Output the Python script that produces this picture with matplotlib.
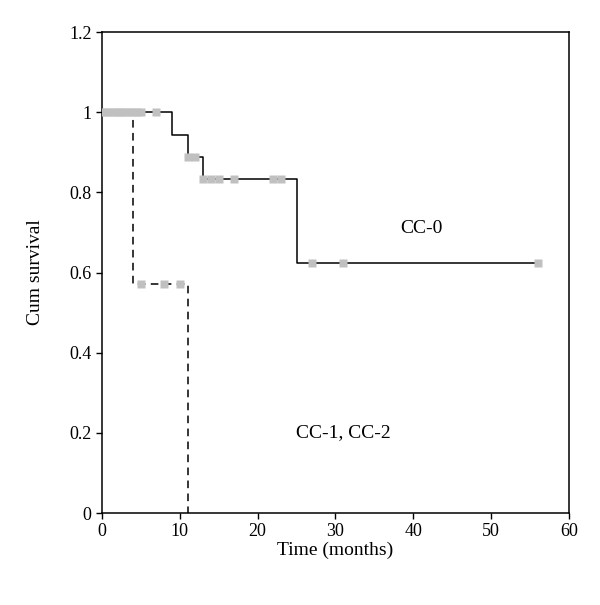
import matplotlib
matplotlib.use("Agg")
import matplotlib.pyplot as plt

plt.rcParams['font.family'] = ['Liberation Serif', 'DejaVu Serif']

# CC-0 survival curve (step points)
cc0_time = [0, 9, 11, 13, 25, 56]
cc0_surv = [1.0, 0.944, 0.889, 0.833, 0.625, 0.625]
# CC-0 censored observations
cc0_cens_time = [0, 0.5, 1, 1.5, 2, 2.5, 3, 3.5, 4, 4.5, 5, 7, 11, 12, 13, 14, 15, 17, 22, 23, 27, 31, 56]
cc0_cens_surv = [1.0] * 12 + [0.889, 0.889] + [0.833] * 6 + [0.625] * 3

# CC-1, CC-2 survival curve
cc12_time = [0, 4, 11, 11]
cc12_surv = [1.0, 0.571, 0.0, 0.0]
cc12_cens_time = [5, 8, 10]
cc12_cens_surv = [0.571, 0.571, 0.571]

fig = plt.figure(figsize=(6, 6.05), dpi=100)
ax = fig.add_axes([0.17, 0.152, 0.778, 0.795])

ax.step(cc0_time, cc0_surv, where='post', color='black', lw=1.1)
ax.step(cc12_time, cc12_surv, where='post', color='black', lw=1.1,
        linestyle=(0, (5, 3.5)))

ax.plot(cc0_cens_time, cc0_cens_surv, 's', color='#c0c0c0', ms=5.5, mec='none', zorder=3)
ax.plot(cc12_cens_time, cc12_cens_surv, 's', color='#c0c0c0', ms=5.5, mec='none', zorder=3)

ax.text(41, 0.71, 'CC-0', fontsize=14, ha='center', va='center')
ax.text(31, 0.2, 'CC-1, CC-2', fontsize=14, ha='center', va='center')

ax.set_xlim(0, 60)
ax.set_ylim(0, 1.2)
ax.set_xticks([0, 10, 20, 30, 40, 50, 60])
ax.set_yticks([0, 0.2, 0.4, 0.6, 0.8, 1.0, 1.2])
ax.set_yticklabels(['0', '0.2', '0.4', '0.6', '0.8', '1', '1.2'])
ax.tick_params(labelsize=13, direction='out', length=4, width=1)
for s in ax.spines.values():
    s.set_linewidth(1.1)

ax.set_xlabel('Time (months)', fontsize=14, labelpad=1)
ax.set_ylabel('Cum survival', fontsize=14, labelpad=18)

fig.savefig('out.png', dpi=100)
